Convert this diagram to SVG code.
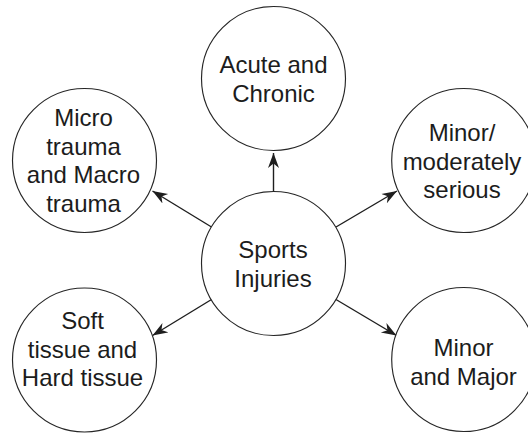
<svg xmlns="http://www.w3.org/2000/svg" width="528" height="434" viewBox="0 0 528 434">
  <style>
    .node circle { fill: #ffffff; stroke: #262626; stroke-width: 1.15; }
    .node text { font-family: "Liberation Sans", Arial, sans-serif; font-size: 24px; fill: #1c1c1c; text-anchor: middle; }
    .links line { stroke: #1e1e1e; stroke-width: 1.4; marker-end: url(#arrow); }
  </style>
  <defs>
    <marker id="arrow" markerUnits="userSpaceOnUse" markerWidth="17" markerHeight="13" refX="15" refY="6" orient="auto">
      <path d="M0,0.5 L15,6 L0,11.5 L4.5,6 Z" fill="#1e1e1e"/>
    </marker>
  </defs>
  <rect width="528" height="434" fill="#ffffff"/>

  <!-- connectors from the hub to each category -->
  <g id="connectors" class="links">
    <line x1="273.5" y1="191.5" x2="273.5" y2="153"/>
    <line x1="211.5" y1="227" x2="152.5" y2="191"/>
    <line x1="336" y1="227" x2="397" y2="191"/>
    <line x1="211.5" y1="299.5" x2="152.5" y2="335.5"/>
    <line x1="336" y1="299.5" x2="396.5" y2="335.5"/>
  </g>

  <g id="hub" class="node">
    <circle cx="273.5" cy="263.5" r="72"/>
    <text x="273" y="258.3">Sports</text>
    <text x="273" y="286.8">Injuries</text>
  </g>

  <g id="acute-chronic" class="node">
    <circle cx="273.5" cy="78.5" r="72"/>
    <text x="273.5" y="73.4">Acute and</text>
    <text x="273.5" y="101.9">Chronic</text>
  </g>

  <g id="micro-macro" class="node">
    <circle cx="84.5" cy="160.5" r="72"/>
    <text x="83.5" y="126">Micro</text>
    <text x="83.5" y="154.5">trauma</text>
    <text x="83.5" y="183">and Macro</text>
    <text x="83.5" y="211.5">trauma</text>
  </g>

  <g id="minor-moderate" class="node">
    <circle cx="463.7" cy="160.5" r="72"/>
    <text x="462" y="141">Minor/</text>
    <text x="462" y="169.5">moderately</text>
    <text x="462" y="198">serious</text>
  </g>

  <g id="soft-hard" class="node">
    <circle cx="84.5" cy="360" r="72"/>
    <text x="82.5" y="329.3">Soft</text>
    <text x="82.5" y="357.8">tissue and</text>
    <text x="82.5" y="386.3">Hard tissue</text>
  </g>

  <g id="minor-major" class="node">
    <circle cx="463.7" cy="359.5" r="72"/>
    <text x="463.5" y="356">Minor</text>
    <text x="463.5" y="384.5">and Major</text>
  </g>
</svg>
